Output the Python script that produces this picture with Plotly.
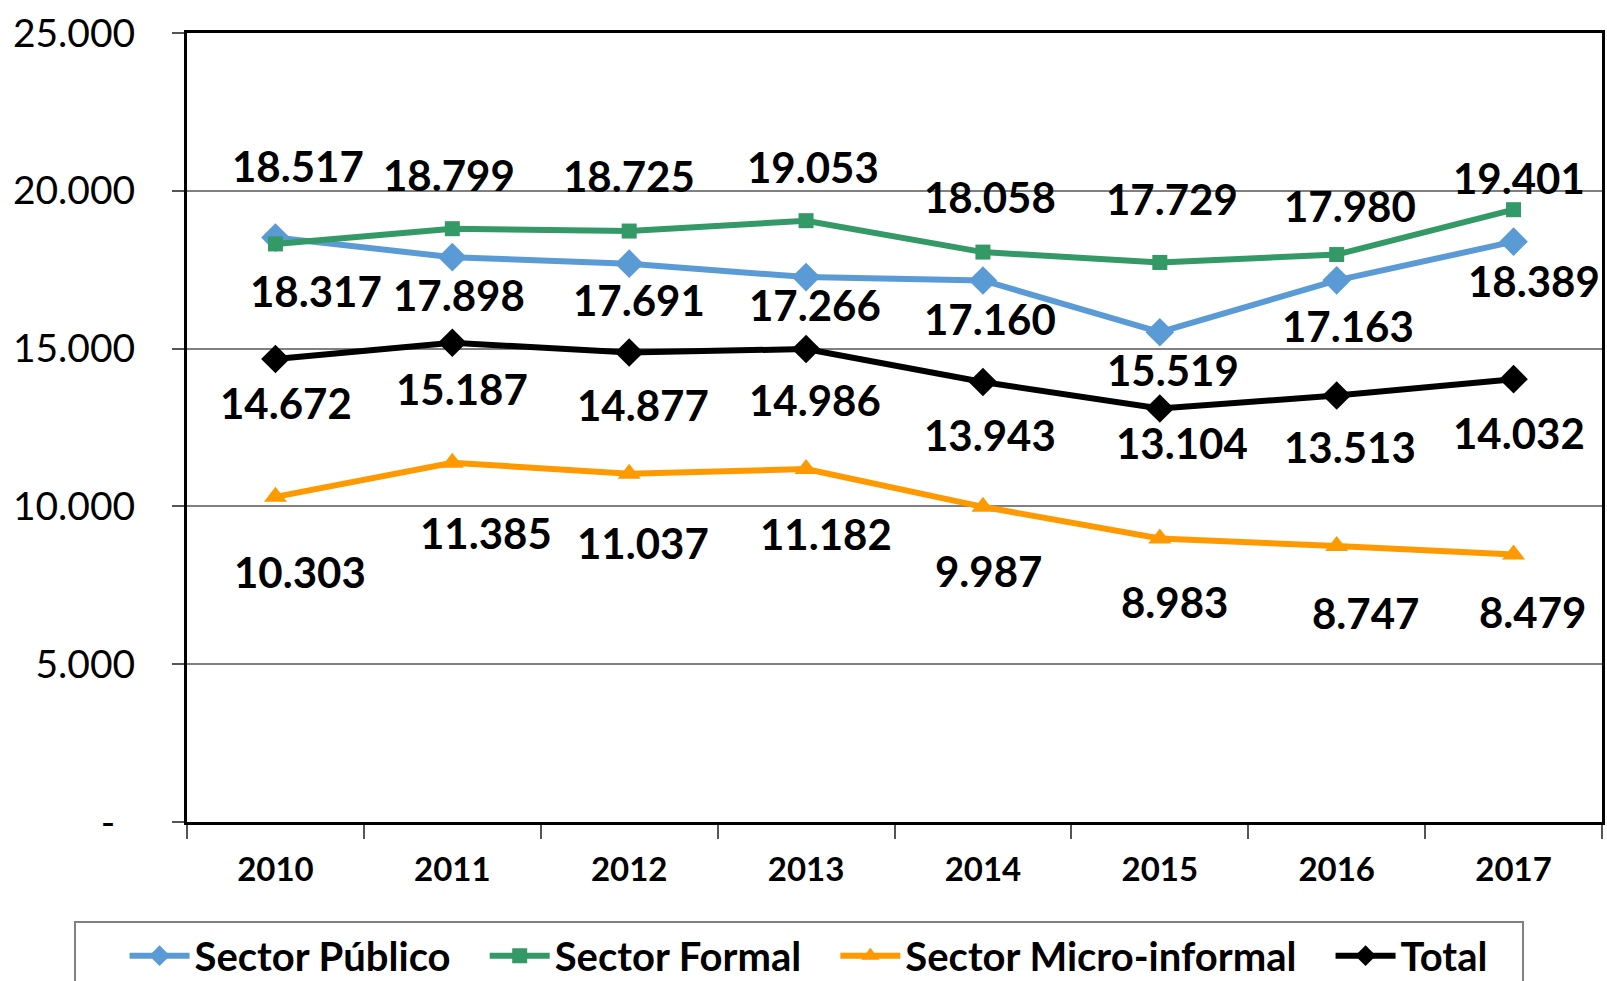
import plotly.graph_objects as go

years = ["2010", "2011", "2012", "2013", "2014", "2015", "2016", "2017"]
publico = [18517, 17898, 17691, 17266, 17160, 15519, 17163, 18389]
formal = [18317, 18799, 18725, 19053, 18058, 17729, 17980, 19401]
micro = [10303, 11385, 11037, 11182, 9987, 8983, 8747, 8479]
total = [14672, 15187, 14877, 14986, 13943, 13104, 13513, 14032]

y_ticks = [0, 5000, 10000, 15000, 20000, 25000]

# label offsets in pixels (dx, dy with dy positive = down)
S = 1607 / 1568
offs = {
    "publico": ([22, 7, 10, 9, 7, 13, 11, 20], [-70, 37, 35, 27, 38, 37, 45, 38]),
    "formal": ([40, -3, 0, 7, 7, 12, 13, 5], [46, -52, -54, -52, -54, -62, -47, -31]),
    "total": ([10, 9, 13, 9, 7, 22, 13, 5], [43, 45, 51, 50, 52, 34, 50, 53]),
    "micro": ([24, 33, 13, 19, 5, 14, 28, 18], [73, 69, 68, 63, 63, 62, 65, 56]),
}

FONT = "Lato"
GAP = "\u00a0" * 3


def fmt(v):
    return f"{v:,}".replace(",", ".")


series = [
    ("Sector Público", publico, "#5B9BD5", "diamond", 22, "publico"),
    ("Sector Formal", formal, "#339966", "square", 15, "formal"),
    ("Sector Micro-informal", micro, "#FF9900", "triangle-up", 20, "micro"),
    ("Total", total, "#000000", "diamond", 22, "total"),
]

fig = go.Figure()
annotations = []
for name, vals, color, sym, msize, key in series:
    fig.add_trace(go.Scatter(
        x=years, y=vals, name=name + GAP,
        mode="lines+markers",
        line=dict(color=color, width=6),
        marker=dict(symbol=sym, size=msize, color=color),
    ))
    dxs, dys = offs[key]
    for i, (v, dx, dy) in enumerate(zip(vals, dxs, dys)):
        annotations.append(dict(
            x=i, y=v, text=fmt(v), showarrow=False,
            xshift=dx * S, yshift=-dy * S,
            font=dict(family=FONT, size=42, color="black", weight="bold"),
        ))

fig.update_xaxes(
    type="category", categoryorder="array", categoryarray=years,
    range=[-0.5, len(years) - 0.5], automargin=False,
    tickson="boundaries", ticks="outside", ticklen=14,
    tickcolor="#555555", tickwidth=1.5,
    showline=True, linecolor="black", linewidth=3, mirror=True,
    showgrid=False,
    tickfont=dict(family=FONT, size=33, color="black", weight="bold"),
    ticklabelstandoff=16,
)
fig.update_yaxes(
    range=[0, 25000], tickvals=y_ticks, automargin=False,
    ticktext=["-\u00a0\u00a0"] + [fmt(v) for v in y_ticks[1:]],
    ticks="outside", ticklen=12, tickcolor="#555555", tickwidth=1.5,
    showline=True, linecolor="black", linewidth=3, mirror=True,
    showgrid=True, gridcolor="#808080", gridwidth=1.5,
    zeroline=False,
    tickfont=dict(family=FONT, size=39, color="black"),
    ticklabelstandoff=29,
)

fig.update_layout(
    width=1607, height=981,
    margin=dict(l=187, r=5, t=33, b=159),
    plot_bgcolor="white", paper_bgcolor="white",
    annotations=annotations,
    showlegend=True,
    legend=dict(
        orientation="h", xref="container", yref="container",
        x=0.497, xanchor="center", y=0.061, yanchor="top",
        bordercolor="#808080", borderwidth=2,
        font=dict(family=FONT, size=40, color="black", weight="bold"),
        itemwidth=60,
        title=dict(text="\u00a0" * 4, font=dict(family=FONT, size=40)),
    ),
)

# page body has a default 8px margin; remove it so the figure sits at 0,0
fig.write_html("out.html", config={"displayModeBar": False},
               post_script="document.body.style.margin='0';")
